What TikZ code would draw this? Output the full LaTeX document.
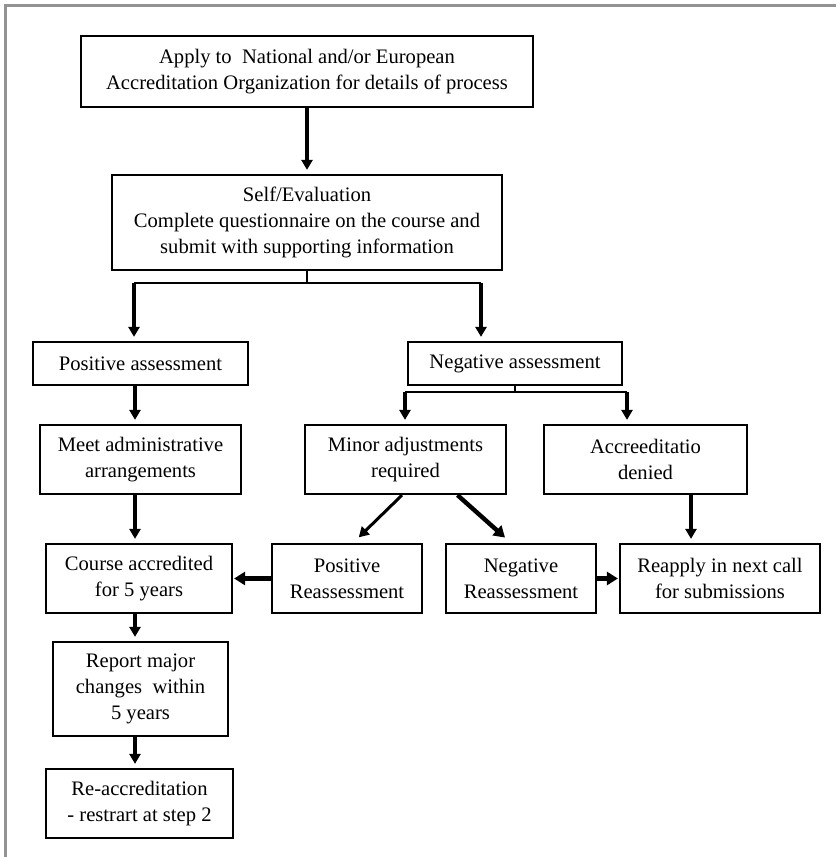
\documentclass[tikz,border=0pt]{standalone}
\usepackage{fontspec}
\setmainfont{Liberation Serif}
\usetikzlibrary{arrows.meta}

\begin{document}
\begin{tikzpicture}[x=0.5pt,y=-0.5pt,
    box/.style={draw,line width=1.1pt,align=center,inner sep=0pt,
      font=\fontsize{10.3}{13}\selectfont},
    arr/.style={line width=1.8pt,-{Triangle[length=5pt,width=5.5pt]},shorten >=2pt},
    bigarr/.style={arr,line width=2.2pt,-{Triangle[length=5.5pt,width=6.5pt]}}]
  % frame
  \useasboundingbox (0,0) rectangle (836,857);
  \draw[line width=1.5pt,gray!85] (5,857) -- (5,5) -- (836,5);

  % boxes
  \node[box,minimum width=226pt,minimum height=35.5pt] (apply) at (307,71.5)
    {Apply to\ \ National and/or European\\Accreditation Organization for details of process};
  \node[box,minimum width=195pt,minimum height=47.5pt] (selfev) at (307,222.5)
    {Self/Evaluation\\Complete questionnaire on the course and\\submit with supporting information};
  \node[box,minimum width=107.5pt,minimum height=21.5pt] (posass) at (140.5,363.5) {Positive assessment};
  \node[box,minimum width=107pt,minimum height=21.5pt] (negass) at (515,363.5) {Negative assessment};
  \node[box,minimum width=100.5pt,minimum height=34.5pt] (meet) at (140.5,459.5)
    {Meet administrative\\arrangements};
  \node[box,minimum width=100.5pt,minimum height=34.5pt] (minor) at (405.5,459.5)
    {Minor adjustments\\required};
  \node[box,minimum width=101.5pt,minimum height=34.5pt] (denied) at (645.5,459.5)
    {Accreeditatio\\denied};
  \node[box,minimum width=93pt,minimum height=34.5pt] (course) at (139,578.5)
    {Course accredited\\for 5 years};
  \node[box,minimum width=75pt,minimum height=34.5pt] (posreas) at (347,578.5)
    {Positive\\Reassessment};
  \node[box,minimum width=75pt,minimum height=34.5pt] (negreas) at (521,578.5)
    {Negative\\Reassessment};
  \node[box,minimum width=100pt,minimum height=34.5pt] (reapply) at (720,578.5)
    {Reapply in next call\\for submissions};
  \node[box,minimum width=87.5pt,minimum height=47pt] (report) at (140.5,689)
    {Report major\\changes\ \ within\\5 years};
  \node[box,minimum width=93.5pt,minimum height=34.5pt] (reacc) at (139.5,803.5)
    {Re-accreditation\\- restrart at step 2};

  % split points
  \coordinate (selfsplit) at (308,283);
  \coordinate (posx) at (134,283);
  \coordinate (negx) at (481,283);
  \coordinate (minx) at (405,392);
  \coordinate (denx) at (627,392);
  \coordinate (leftx) at (135,0);
  \coordinate (denyx) at (691,0);

  % connectors
  \draw[arr] (apply.south) -- (selfev.north);
  \draw[line width=0.6pt] (selfev.south) -- (selfev.south |- selfsplit);
  \draw[line width=1pt] (posx) -- (negx);
  \draw[arr] (posx) -- (posass.north -| posx);
  \draw[arr] (negx) -- (negass.north -| negx);

  \draw[line width=0.6pt] (negass.south) -- (negass.south |- minx);
  \draw[line width=1pt] (minx) -- (denx);
  \draw[arr] (minx) -- (minor.north -| minx);
  \draw[arr] (denx) -- (denied.north -| denx);

  % left column
  \foreach \a/\b in {posass/meet,meet/course,course/report,report/reacc}
    \draw[arr] (\a.south -| leftx) -- (\b.north -| leftx);

  % reassessment
  \draw[arr,line width=1.5pt,shorten >=4pt] ([xshift=-1.75pt]minor.south) -- ([xshift=3pt]posreas.north);
  \draw[bigarr,shorten >=4pt] ([xshift=26pt]minor.south) -- ([xshift=-5pt]negreas.north);
  \draw[arr] (denied.south -| denyx) -- (reapply.north -| denyx);
  \draw[bigarr,shorten >=0.5pt] (posreas.west) -- (course.east);
  \draw[bigarr,shorten >=0.5pt] (negreas.east) -- (reapply.west);
\end{tikzpicture}
\end{document}
